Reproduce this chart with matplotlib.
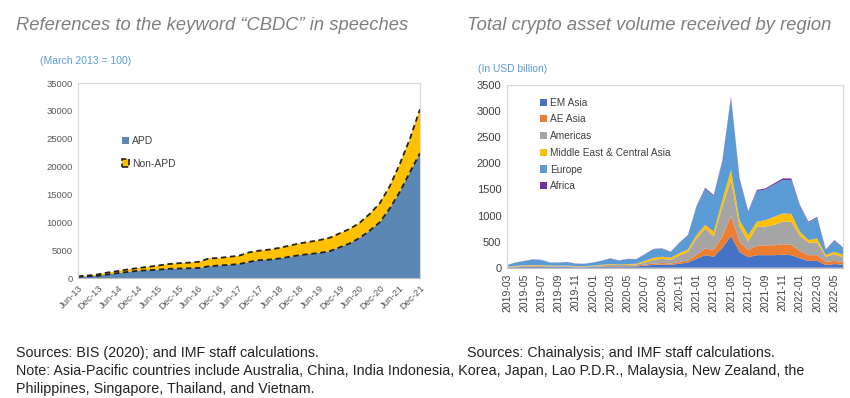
# CBDC speeches and crypto asset volume by region

import numpy as np
import matplotlib.pyplot as plt
from matplotlib.patches import Patch

plt.rcParams['font.family'] = ['Liberation Sans', 'DejaVu Sans']

# ---- left panel data (quarterly, March 2013 = 100)
quarters = ['Jun-13', 'Sep-13', 'Dec-13', 'Mar-14', 'Jun-14', 'Sep-14', 'Dec-14',
            'Mar-15', 'Jun-15', 'Sep-15', 'Dec-15', 'Mar-16', 'Jun-16', 'Sep-16', 'Dec-16',
            'Mar-17', 'Jun-17', 'Sep-17', 'Dec-17', 'Mar-18', 'Jun-18', 'Sep-18', 'Dec-18',
            'Mar-19', 'Jun-19', 'Sep-19', 'Dec-19', 'Mar-20', 'Jun-20', 'Sep-20', 'Dec-20',
            'Mar-21', 'Jun-21', 'Sep-21', 'Dec-21']
apd = [200, 300, 400, 650, 900, 1100, 1300, 1400, 1500, 1650, 1700, 1750, 1800, 2100,
       2250, 2350, 2500, 2900, 3200, 3300, 3500, 3800, 4100, 4300, 4500, 4800, 5500,
       6200, 7200, 8500, 10000, 12500, 15500, 19000, 22400]
non_apd = [100, 150, 250, 350, 350, 450, 500, 600, 750, 850, 950, 1000, 1100, 1400,
           1350, 1450, 1500, 1700, 1700, 1800, 1900, 2000, 2100, 2200, 2300, 2400, 2500,
           2600, 2700, 3000, 3400, 4000, 5000, 6000, 7900]

# ---- right panel data (monthly, USD billion)
months = ['2019-03', '2019-04', '2019-05', '2019-06', '2019-07', '2019-08', '2019-09',
          '2019-10', '2019-11', '2019-12', '2020-01', '2020-02', '2020-03', '2020-04',
          '2020-05', '2020-06', '2020-07', '2020-08', '2020-09', '2020-10', '2020-11',
          '2020-12', '2021-01', '2021-02', '2021-03', '2021-04', '2021-05', '2021-06',
          '2021-07', '2021-08', '2021-09', '2021-10', '2021-11', '2021-12', '2022-01',
          '2022-02', '2022-03', '2022-04', '2022-05', '2022-06']
em_asia = [5, 10, 15, 20, 20, 15, 15, 15, 10, 10, 15, 20, 25, 20, 25, 25, 40, 55, 60, 55,
           75, 100, 170, 240, 210, 380, 610, 300, 200, 240, 240, 240, 250, 240, 180, 130,
           130, 50, 70, 60]
ae_asia = [5, 5, 10, 10, 10, 5, 5, 5, 5, 5, 5, 10, 10, 10, 10, 15, 20, 25, 30, 25, 35, 40,
           80, 130, 130, 220, 380, 200, 140, 180, 190, 190, 200, 200, 140, 110, 110, 60,
           60, 50]
americas = [5, 10, 10, 10, 10, 10, 10, 10, 10, 10, 10, 15, 20, 20, 20, 20, 40, 70, 80, 70,
            120, 160, 310, 380, 260, 570, 690, 285, 160, 365, 360, 390, 430, 440, 290, 240,
            240, 100, 130, 90]
mideast = [5, 10, 10, 10, 10, 10, 10, 10, 5, 5, 10, 10, 15, 10, 15, 15, 30, 40, 40, 40,
           50, 50, 65, 70, 90, 130, 190, 125, 125, 95, 120, 155, 160, 150, 80, 50, 80, 35,
           45, 45]
europe = [28, 62, 82, 106, 96, 57, 57, 67, 48, 43, 57, 77, 106, 76, 96, 86, 125, 164, 154,
          109, 192, 265, 540, 690, 682, 735, 1375, 780, 445, 590, 588, 615, 640, 650, 490,
          335, 400, 97, 215, 137]
africa = [2, 3, 3, 4, 4, 3, 3, 3, 2, 2, 3, 3, 4, 4, 4, 4, 5, 6, 6, 6, 8, 10, 15, 20, 18,
          25, 30, 20, 15, 20, 22, 25, 30, 30, 20, 15, 15, 8, 10, 8]

region_names = ['EM Asia', 'AE Asia', 'Americas', 'Middle East & Central Asia', 'Europe', 'Africa']
region_colors = ['#4472c4', '#ed7d31', '#a5a5a5', '#ffc000', '#5b9bd5', '#7030a0']

tick_grey = '#595959'
frame_grey = '#d9d9d9'

fig = plt.figure(figsize=(8.5, 3.98), dpi=100)

# ---------------- left chart
ax1 = fig.add_axes([78/850, 1 - 278/398, 342/850, 195/398])
x1 = np.arange(len(quarters))
ax1.stackplot(x1, apd, non_apd, colors=['#5b87b5', '#ffc000'], linewidth=0)
top = np.array(apd) + np.array(non_apd)
ax1.plot(x1, apd, color='#222222', ls=(0, (3, 2)), lw=1.3)
ax1.plot(x1, top, color='#222222', ls=(0, (3, 2)), lw=1.3)
ax1.set_xlim(0, len(quarters) - 1)
ax1.set_ylim(0, 35000)
ax1.set_yticks(np.arange(0, 35001, 5000))
ax1.set_xticks(x1[::2])
ax1.set_xticklabels(quarters[::2], rotation=45, ha='right', rotation_mode='anchor')
ax1.tick_params(axis='both', length=0, labelsize=6.8, colors=tick_grey, pad=4)
for s in ax1.spines.values():
    s.set_color(frame_grey)
    s.set_linewidth(0.8)
ax1.spines['bottom'].set_color('#bfbfbf')

handles1 = [Patch(facecolor='#5b87b5', edgecolor='none', label='APD'),
            Patch(facecolor='#ffc000', edgecolor='#222222', linestyle='--', lw=1.2, label='Non-APD')]
ax1.legend(handles=handles1, loc='upper left', bbox_to_anchor=(0.1, 0.775), frameon=False,
           fontsize=7.5, handlelength=0.7, handleheight=0.7, handletextpad=0.3,
           labelspacing=1.2, labelcolor='#404040')

fig.text(16/850, 1 - 25/398, 'References to the keyword \u201cCBDC\u201d in speeches',
         fontsize=13.2, style='italic', color='#7f7f7f', va='center')
fig.text(40/850, 1 - 61/398, '(March 2013 = 100)', fontsize=7.5, color='#5b9bd5', va='center')

# ---------------- right chart
ax2 = fig.add_axes([507/850, 1 - 267.7/398, 336/850, 182.7/398])
x2 = np.arange(len(months))
ax2.stackplot(x2, em_asia, ae_asia, americas, mideast, europe, africa,
              colors=region_colors, labels=region_names, linewidth=0)
ax2.set_xlim(0, len(months) - 1)
ax2.set_ylim(0, 3500)
ax2.set_yticks(np.arange(0, 3501, 500))
ax2.set_xticks(x2[::2])
ax2.set_xticklabels(months[::2], rotation=90)
ax2.tick_params(axis='y', length=0, labelsize=8, colors='#404040', pad=4)
ax2.tick_params(axis='x', length=0, labelsize=7.5, colors='#404040', pad=4)
for s in ax2.spines.values():
    s.set_color(frame_grey)
    s.set_linewidth(0.8)
ax2.spines['bottom'].set_color('#bfbfbf')
ax2.legend(loc='upper left', bbox_to_anchor=(0.07, 0.98), frameon=False, fontsize=7.3,
           handlelength=0.7, handleheight=0.7, handletextpad=0.3, labelspacing=0.66,
           labelcolor='#404040')

fig.text(467/850, 1 - 25/398, 'Total crypto asset volume received by region',
         fontsize=13.2, style='italic', color='#7f7f7f', va='center')
fig.text(478/850, 1 - 69/398, '(In USD billion)', fontsize=7.4, color='#5b9bd5', va='center')

# ---------------- notes
fig.text(16/850, 1 - 353/398, 'Sources: BIS (2020); and IMF staff calculations.',
         fontsize=10.3, color='#222222', va='center')
fig.text(467/850, 1 - 353/398, 'Sources: Chainalysis; and IMF staff calculations.',
         fontsize=10.3, color='#222222', va='center')
fig.text(16/850, 1 - 371/398,
         'Note: Asia-Pacific countries include Australia, China, India Indonesia, Korea, Japan, '
         'Lao P.D.R., Malaysia, New Zealand, the', fontsize=10.3, color='#222222', va='center')
fig.text(16/850, 1 - 389/398, 'Philippines, Singapore, Thailand, and Vietnam.',
         fontsize=10.3, color='#222222', va='center')

plt.savefig('out.png', dpi=100)
